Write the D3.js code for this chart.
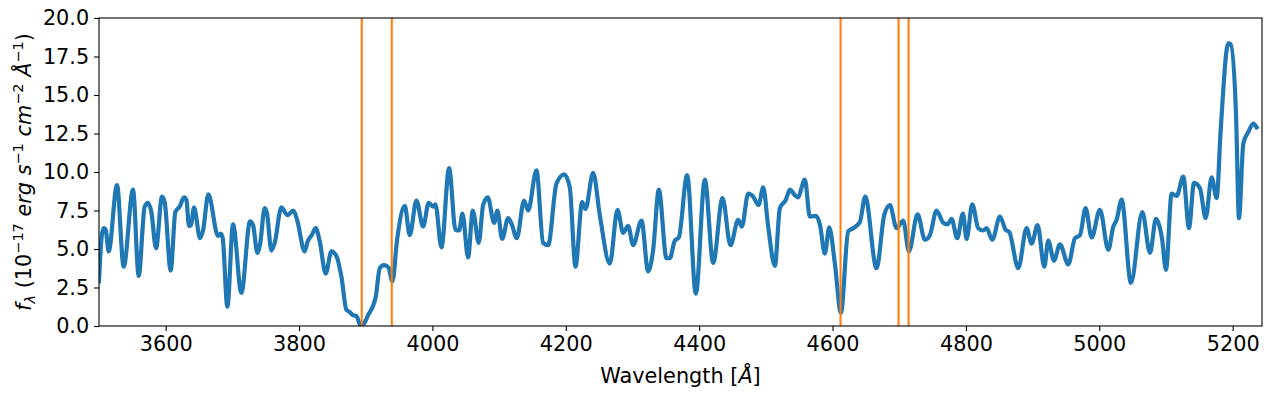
<!DOCTYPE html>
<html>
<head>
<meta charset="utf-8">
<script src="https://cdn.jsdelivr.net/npm/d3@7"></script>
<style>
  body { margin: 0; background: #fff; }
  text { font-family: "DejaVu Sans", sans-serif; }
</style>
</head>
<body>
<svg id="chart" width="1272" height="399"></svg>
<script>
// spectrum (wavelength in Å, flux in 1e-17 erg/s/cm2/Å)
const wavelength = [
  3500, 3504, 3507, 3510, 3514.5, 3527, 3537, 3551, 3559.5, 3568.5, 3573.5, 3578.5, 3585.5, 3594.5, 3598.5,
  3607.5, 3614.5, 3621, 3627.5, 3631, 3635, 3638, 3642.5, 3651.5, 3656, 3664, 3678.5, 3682.5, 3685.5, 3692.5,
  3701, 3713.5, 3726.5, 3731, 3737.5, 3741.5, 3748.5, 3752, 3758.5, 3763.5, 3773.5, 3782.5, 3791.5, 3797,
  3808.5, 3813, 3819, 3825, 3831, 3840, 3848.5, 3856, 3863.5, 3871, 3876, 3881, 3886, 3892, 3897, 3903.5,
  3915, 3921, 3927.5, 3934, 3940, 3947, 3958.5, 3966, 3976, 3986, 3994.5, 4001, 4004.5, 4013.5, 4025, 4034.5,
  4040, 4045, 4053.5, 4060.5, 4069.5, 4076, 4083, 4092.5, 4097.5, 4104.5, 4113.5, 4119, 4126.5, 4137.5, 4143.5,
  4156, 4166, 4173.5, 4186, 4197.5, 4206, 4214.5, 4224.5, 4229.5, 4241, 4251, 4266, 4277.5, 4286, 4293.5,
  4301, 4313.5, 4323.5, 4331, 4339.5, 4351, 4356, 4363.5, 4369.5, 4382, 4395, 4408.5, 4421, 4435, 4447,
  4458.5, 4464, 4473.5, 4481, 4489, 4496, 4503.5, 4513.5, 4521, 4530, 4536, 4543.5, 4548, 4558.5, 4566,
  4575, 4581, 4588.5, 4595, 4603.5, 4612.5, 4623.5, 4631, 4641, 4649, 4666, 4677.5, 4686, 4696, 4706,
  4714.5, 4727.5, 4738.5, 4746, 4756, 4766, 4772.5, 4778.5, 4787, 4795.5, 4801, 4809.5, 4818.5, 4826, 4831,
  4839.5, 4851, 4859.5, 4865, 4878.5, 4891, 4898.5, 4907.5, 4917.5, 4923.5, 4932, 4941, 4953.5, 4963.5, 4971,
  4979.5, 4988.5, 5001, 5013.5, 5021, 5026, 5033.5, 5047.5, 5064.5, 5076, 5085, 5094, 5100, 5108.5, 5116,
  5126, 5134.5, 5142, 5151, 5159.5, 5168.5, 5176, 5182, 5193.5, 5197, 5205, 5209.5, 5216, 5223.5, 5231, 5236
];
const flux = [
  2.9, 5.8, 6.35, 6.25, 4.85, 9.15, 3.85, 8.85, 3.25, 7.75, 8.0, 7.4, 5.05, 8.4, 8.05,
  3.6, 7.4, 7.75, 8.35, 8.2, 6.5, 6.55, 7.7, 5.7, 6.2, 8.55, 5.85, 6.0, 5.7, 1.25,
  6.6, 2.15, 6.8, 6.55, 4.75, 5.3, 7.65, 7.3, 4.9, 5.4, 7.7, 7.2, 7.5, 6.9,
  4.85, 5.5, 5.9, 6.35, 5.5, 3.4, 4.85, 4.55, 3.2, 1.05, 0.9, 0.7, 0.65, 0.05, 0.15, 0.7,
  1.9, 3.75, 3.95, 3.8, 2.9, 5.6, 7.8, 5.9, 8.15, 6.45, 8.0, 7.75, 7.9, 5.1, 10.25, 6.25,
  6.2, 7.3, 4.45, 7.5, 5.4, 7.85, 8.35, 6.7, 7.5, 5.65, 7.0, 6.6, 5.7, 8.15, 7.5,
  10.1, 5.4, 5.25, 9.25, 9.85, 9.0, 3.85, 8.05, 7.6, 9.95, 7.2, 4.05, 7.55, 6.05, 6.5,
  5.25, 6.85, 3.55, 4.95, 8.85, 4.4, 4.4, 5.55, 5.75, 9.8, 2.1, 9.5, 4.1, 8.3, 5.25,
  6.9, 6.45, 8.6, 8.4, 7.85, 9.0, 6.45, 3.9, 7.65, 8.2, 8.85, 8.5, 8.35, 9.5, 7.1,
  7.15, 6.6, 4.7, 6.4, 4.05, 0.85, 6.15, 6.35, 6.75, 8.4, 3.75, 7.2, 7.85, 6.35, 6.85,
  4.85, 7.25, 5.6, 5.9, 7.5, 6.7, 6.6, 6.95, 5.7, 7.3, 5.65, 7.9, 6.35, 6.2, 6.35,
  5.6, 7.1, 6.25, 6.1, 3.75, 6.35, 5.35, 6.55, 3.85, 5.55, 4.25, 5.3, 4.0, 5.7, 5.9,
  7.65, 5.75, 7.55, 4.95, 6.45, 6.9, 8.2, 2.8, 7.4, 4.75, 6.95, 5.7, 3.65, 8.6, 8.45,
  9.7, 6.35, 9.3, 8.95, 7.0, 9.65, 8.3, 12.7, 18.35, 18.3, 13.8, 7.0, 11.85, 12.6, 13.15, 12.9
];
// marked lines (orange verticals)
const lineMarks = [3894, 3939, 4612, 4699, 4714];
const xTicks = [3600, 3800, 4000, 4200, 4400, 4600, 4800, 5000, 5200];
const yTicks = [0, 2.5, 5, 7.5, 10, 12.5, 15, 17.5, 20];

const margin = { top: 18, right: 10, bottom: 73, left: 99 };
const svg = d3.select("#chart"),
    width = +svg.attr("width") - margin.left - margin.right,
    height = +svg.attr("height") - margin.top - margin.bottom;

const g = svg.append("g").attr("transform", `translate(${margin.left},${margin.top})`);

const x = d3.scaleLinear().domain([3500, 5244]).range([0, width]);
const y = d3.scaleLinear().domain([0, 20]).range([height, 0]);

const data = wavelength.map((w, i) => ({ w: w, f: flux[i] }));

g.append("defs").append("clipPath").attr("id", "clip")
  .append("rect").attr("width", width).attr("height", height);

const line = d3.line()
    .x(d => x(d.w))
    .y(d => y(d.f))
    .curve(d3.curveMonotoneX);

g.append("path")
  .datum(data)
  .attr("clip-path", "url(#clip)")
  .attr("fill", "none")
  .attr("stroke", "#1f77b4")
  .attr("stroke-width", 4.2)
  .attr("stroke-linejoin", "round")
  .attr("stroke-linecap", "square")
  .attr("d", line);

g.selectAll(".mark")
  .data(lineMarks)
  .enter().append("line")
  .attr("class", "mark")
  .attr("x1", d => x(d)).attr("x2", d => x(d))
  .attr("y1", 0).attr("y2", height)
  .attr("stroke", "#ff7f0e")
  .attr("stroke-width", 2.1);

// axes
const xAxis = g.append("g")
  .attr("transform", `translate(0,${height})`)
  .call(d3.axisBottom(x).tickValues(xTicks).tickFormat(d3.format("d")).tickSize(4.9).tickPadding(4.9).tickSizeOuter(0));
const yAxis = g.append("g")
  .call(d3.axisLeft(y).tickValues(yTicks).tickFormat(d3.format(".1f")).tickSize(4.9).tickPadding(4.9).tickSizeOuter(0));

[xAxis, yAxis].forEach(a => {
  a.select(".domain").remove();
  a.selectAll("line").attr("stroke", "#000").attr("stroke-width", 1.1);
  a.selectAll("text").attr("font-family", "DejaVu Sans").attr("font-size", 20.8).attr("fill", "#000");
});

g.append("rect")
  .attr("width", width).attr("height", height)
  .attr("fill", "none").attr("stroke", "#000").attr("stroke-width", 1.1);

// x label
const xl = svg.append("text")
  .attr("x", margin.left + width / 2)
  .attr("y", 383)
  .attr("text-anchor", "middle")
  .attr("font-size", 20.8)
  .style("white-space", "pre");
xl.append("tspan").text("Wavelength [");
xl.append("tspan").attr("font-style", "italic").text("Å");
xl.append("tspan").text("]");

// y label with sub/superscripts
const parts = [
  { t: "f", it: true }, { t: "λ", it: true, sub: true },
  { t: " (10" }, { t: "−17", sup: true },
  { t: " erg s", it: true }, { t: "−1", sup: true },
  { t: " cm", it: true }, { t: "−2", sup: true },
  { t: " Å", it: true }, { t: "−1", sup: true },
  { t: ")" }
];
const yl = svg.append("text")
  .attr("transform", `translate(31,${margin.top + height / 2}) rotate(-90)`)
  .attr("text-anchor", "middle")
  .attr("font-size", 20.8)
  .style("white-space", "pre");
let shift = 0;
parts.forEach(p => {
  let target = p.sup ? -8 : p.sub ? 4 : 0;
  yl.append("tspan")
    .attr("dy", target - shift)
    .attr("font-style", p.it ? "italic" : null)
    .attr("font-size", p.sup || p.sub ? 14.5 : null)
    .text(p.t);
  shift = target;
});
</script>
</body>
</html>
